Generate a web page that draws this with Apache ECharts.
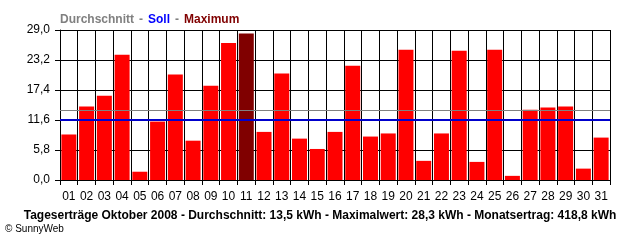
<!DOCTYPE html>
<html>
<head>
<meta charset="utf-8">
<script src="https://cdn.jsdelivr.net/npm/echarts@6/dist/echarts.min.js"></script>
<style>
  html, body { margin: 0; padding: 0; background: #fff; }
</style>
</head>
<body>
<div id="chart" style="width: 640px;height: 240px"></div>
<script>
const days = ['01', '02', '03', '04', '05', '06', '07', '08', '09', '10', '11', '12', '13', '14', '15', '16',
  '17', '18', '19', '20', '21', '22', '23', '24', '25', '26', '27', '28', '29', '30', '31']
const ertrag = [8.8, 14.2, 16.3, 24.2, 1.6, 11.3, 20.4, 7.6, 18.2, 26.5, 28.3, 9.3, 20.6, 8.0, 6.0, 9.3,
  22.1, 8.4, 9.0, 25.2, 3.7, 9.0, 25.0, 3.5, 25.2, 0.8, 13.6, 14.0, 14.2, 2.2, 8.2]
const durchschnitt = 13.5
const soll = 11.7
const yTicks = [0, 5.8, 11.6, 17.4, 23.2, 29.0]

const chart = echarts.init(document.getElementById('chart'))
const font = 'Liberation Sans, Arial, sans-serif'
const maxIdx = ertrag.indexOf(Math.max(...ertrag))

const options = {
  animation: false,
  title: [{
    text: '{a|Durchschnitt} {a|-} {b|Soll} {a|-} {c|Maximum}',
    left: 60,
    top: 11,
    padding: 0,
    textStyle: {
      rich: {
        a: { color: '#808080', fontFamily: font, fontSize: 12, fontWeight: 'bold' },
        b: { color: '#0000ff', fontFamily: font, fontSize: 12, fontWeight: 'bold' },
        c: { color: '#800000', fontFamily: font, fontSize: 12, fontWeight: 'bold' }
      }
    }
  }, {
    text: 'Tageserträge Oktober 2008 - Durchschnitt: 13,5 kWh - Maximalwert: 28,3 kWh - Monatsertrag: 418,8 kWh',
    left: 'center',
    top: 210,
    padding: 0,
    textStyle: { color: '#000', fontFamily: font, fontSize: 12, fontWeight: 'bold' }
  }, {
    text: '© SunnyWeb',
    left: 5,
    top: 224,
    padding: 0,
    textStyle: { color: '#000', fontFamily: font, fontSize: 10, fontWeight: 'normal' }
  }],
  grid: {
    left: 60,
    right: 30,
    top: 30,
    bottom: 60
  },
  xAxis: {
    type: 'category',
    data: days,
    boundaryGap: true,
    axisLine: { show: true, lineStyle: { color: '#000', width: 1 } },
    axisTick: { show: true, length: 5, lineStyle: { color: '#000' } },
    axisLabel: { color: '#000', fontFamily: font, fontSize: 12, margin: 11 },
    splitLine: { show: true, lineStyle: { color: '#000', width: 1 } }
  },
  yAxis: {
    type: 'value',
    min: yTicks[0],
    max: yTicks[yTicks.length - 1],
    interval: yTicks[1],
    axisLine: { show: true, lineStyle: { color: '#000', width: 1 } },
    axisTick: { show: true, length: 5, lineStyle: { color: '#000' } },
    axisLabel: {
      color: '#000',
      fontFamily: font,
      fontSize: 12,
      margin: 10,
      formatter: function (v) { return v.toFixed(1).replace('.', ',') }
    },
    splitLine: { show: true, lineStyle: { color: '#000', width: 1 } }
  },
  series: [{
    type: 'bar',
    barWidth: 15,
    data: ertrag.map(function (v, i) {
      return { value: v, itemStyle: { color: i === maxIdx ? '#800000' : '#ff0000' } }
    }),
    markLine: {
      silent: true,
      symbol: 'none',
      label: { show: false },
      data: [
        { yAxis: durchschnitt, lineStyle: { color: '#808080', width: 1, type: 'solid' } },
        { yAxis: soll, lineStyle: { color: '#0000cc', width: 2, type: 'solid' } }
      ]
    }
  }]
}
chart.setOption(options)
</script>
</body>
</html>
